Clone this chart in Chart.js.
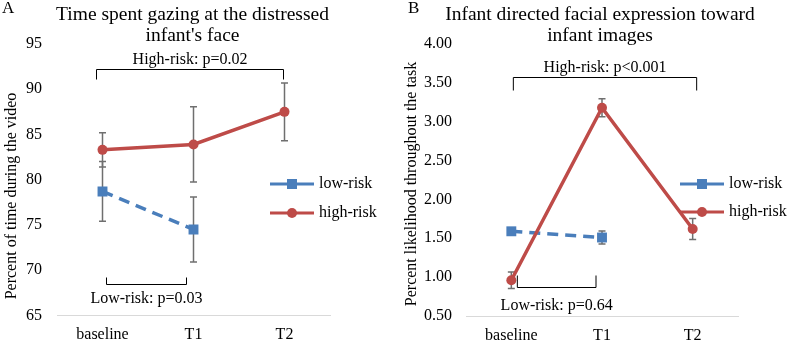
<!DOCTYPE html>
<html>
<head>
<meta charset="utf-8">
<script src="https://cdn.jsdelivr.net/npm/chart.js@4/dist/chart.umd.min.js"></script>
<style>
  body { margin: 0; background: #fff; }
  #wrap { display: flex; width: 787px; height: 340px; }
  canvas { display: block; }
</style>
</head>
<body>
<div id="wrap">
  <canvas id="chartA" width="393" height="340"></canvas>
  <canvas id="chartB" width="394" height="340"></canvas>
</div>
<script>
const categories = ["baseline", "T1", "T2"];

// panel A: time spent gazing (%)
const lowRiskA = [78.7, 74.5, null];
const lowRiskErrA = [3.3, 3.6, null];
const highRiskA = [83.3, 83.9, 87.5];
const highRiskErrA = [1.9, 4.15, 3.2];
const ticksA = [65, 70, 75, 80, 85, 90, 95];

// panel B: facial expression likelihood (%)
const lowRiskB = [1.59, 1.51, null];
const lowRiskErrB = [0.045, 0.085, null];
const highRiskB = [0.96, 3.18, 1.62];
const highRiskErrB = [0.105, 0.115, 0.135];
const ticksB = [0.5, 1.0, 1.5, 2.0, 2.5, 3.0, 3.5, 4.0];

const blue = "#4a7ebb";
const red = "#be4b48";
const serif = "'Liberation Serif', 'Times New Roman', serif";

// draws error bars, p-value brackets, panel letter, titles and legend
const extrasPlugin = {
  id: "extras",
  beforeDatasetsDraw(chart) {
    const ctx = chart.ctx;
    const x = chart.scales.x;
    const y = chart.scales.y;
    const opts = chart.options.plugins.extras;
    ctx.save();
    ctx.strokeStyle = "#6f6f6f";
    ctx.lineWidth = 1.5;
    opts.errors.forEach((e) => {
      e.values.forEach((v, i) => {
        if (v == null || e.err[i] == null) return;
        const px = x.getPixelForValue(i);
        const top = y.getPixelForValue(v + e.err[i]);
        const bot = y.getPixelForValue(v - e.err[i]);
        ctx.beginPath();
        ctx.moveTo(px, top);
        ctx.lineTo(px, bot);
        ctx.moveTo(px - 3.5, top);
        ctx.lineTo(px + 3.5, top);
        ctx.moveTo(px - 3.5, bot);
        ctx.lineTo(px + 3.5, bot);
        ctx.stroke();
      });
    });
    ctx.restore();
  },
  afterDraw(chart) {
    const ctx = chart.ctx;
    const x = chart.scales.x;
    const y = chart.scales.y;
    const area = chart.chartArea;
    const opts = chart.options.plugins.extras;
    ctx.save();

    // brackets
    ctx.strokeStyle = "#000";
    ctx.lineWidth = 1;
    ctx.fillStyle = "#000";
    ctx.font = "16px " + serif;
    ctx.textAlign = "center";
    ctx.textBaseline = "middle";
    opts.brackets.forEach((b) => {
      const x1 = x.getPixelForValue(b.from) + b.dx1;
      const x2 = x.getPixelForValue(b.to) + b.dx2;
      const py = Math.round(y.getPixelForValue(b.value)) + 0.5;
      ctx.beginPath();
      ctx.moveTo(x1, py + b.tick);
      ctx.lineTo(x1, py);
      ctx.lineTo(x2, py);
      ctx.lineTo(x2, py + b.tick);
      ctx.stroke();
      ctx.fillText(b.label, (x1 + x2) / 2, py + b.textDy);
    });

    // y axis title
    ctx.save();
    ctx.translate(opts.yTitleX, opts.yTitleY);
    ctx.rotate(-Math.PI / 2);
    ctx.fillText(opts.yTitle, 0, 0);
    ctx.restore();

    // panel letter and title
    ctx.font = "17px " + serif;
    ctx.textAlign = "left";
    ctx.fillText(opts.letter, opts.letterX, 9);
    ctx.font = "19.5px " + serif;
    ctx.textAlign = "center";
    const cx = (area.left + area.right) / 2 + opts.titleDx;
    opts.title.forEach((line, i) => ctx.fillText(line, cx, 15 + i * 21));

    // legend
    chart.data.datasets.forEach((ds, i) => {
      const ly = opts.legendY[i];
      const lx1 = opts.legendX;
      const lx2 = lx1 + 44;
      const mx = (lx1 + lx2) / 2;
      ctx.strokeStyle = ds.borderColor;
      ctx.lineWidth = 3;
      ctx.beginPath();
      ctx.moveTo(lx1, ly);
      ctx.lineTo(lx2, ly);
      ctx.stroke();
      ctx.fillStyle = ds.borderColor;
      if (ds.pointStyle === "rect") {
        ctx.fillRect(mx - 5, ly - 5, 10, 10);
      } else {
        ctx.beginPath();
        ctx.arc(mx, ly, 5, 0, Math.PI * 2);
        ctx.fill();
      }
      ctx.fillStyle = "#000";
      ctx.font = "16px " + serif;
      ctx.textAlign = "left";
      ctx.fillText(ds.label, lx2 + 5, ly);
    });
    ctx.restore();
  },
};

function makeChart(id, cfg) {
  return new Chart(document.getElementById(id).getContext("2d"), {
    type: "line",
    data: {
      labels: categories,
      datasets: [
        {
          label: "low-risk",
          data: cfg.low,
          borderColor: blue,
          backgroundColor: blue,
          borderWidth: 3.5,
          borderDash: [11, 7],
          pointStyle: "rect",
          pointRadius: 7,
          pointBorderWidth: 0,
          order: 1,
          spanGaps: false,
        },
        {
          label: "high-risk",
          data: cfg.high,
          borderColor: red,
          backgroundColor: red,
          borderWidth: 3.5,
          pointStyle: "circle",
          pointRadius: 5,
          pointBorderWidth: 0,
          order: 0,
        },
      ],
    },
    options: {
      responsive: false,
      animation: false,
      layout: { padding: { left: 0, top: 44, right: cfg.padRight, bottom: 0 } },
      plugins: {
        legend: { display: false },
        tooltip: { enabled: false },
        extras: cfg.extras,
      },
      scales: {
        x: {
          offset: true,
          grid: { display: false, drawTicks: false },
          border: { display: true, color: "#d9d9d9", width: 1 },
          ticks: { color: "#000", font: { family: serif, size: 16 }, padding: 10 },
          afterFit: (s) => { s.height = 24; },
        },
        y: {
          min: cfg.ticks[0],
          max: cfg.ticks[cfg.ticks.length - 1],
          afterBuildTicks: (s) => { s.ticks = cfg.ticks.map((v) => ({ value: v })); },
          grid: { display: false, drawTicks: false },
          border: { display: false },
          ticks: {
            color: "#000",
            font: { family: serif, size: 16 },
            padding: cfg.tickPad,
            callback: cfg.fmt,
          },
          afterFit: (s) => { s.width = cfg.yWidth; },
        },
      },
    },
    plugins: [extrasPlugin],
  });
}

makeChart("chartA", {
  low: lowRiskA,
  high: highRiskA,
  ticks: ticksA,
  fmt: (v) => String(v),
  yWidth: 57,
  tickPad: 15,
  padRight: 63,
  extras: {
    letter: "A",
    letterX: 2,
    title: ["Time spent gazing at the distressed", "infant's face"],
    titleDx: -1,
    yTitle: "Percent of time during the video",
    yTitleX: 12,
    yTitleY: 196,
    legendX: 270,
    legendY: [184, 213],
    errors: [
      { values: lowRiskA, err: lowRiskErrA },
      { values: highRiskA, err: highRiskErrA },
    ],
    brackets: [
      { label: "High-risk: p=0.02", from: 0, to: 2, dx1: -6, dx2: -1, value: 92.24, tick: 10, textDy: -10 },
      { label: "Low-risk: p=0.03", from: 0, to: 1, dx1: 4, dx2: -7, value: 68.5, tick: -7, textDy: 14 },
    ],
  },
});

makeChart("chartB", {
  low: lowRiskB,
  high: highRiskB,
  ticks: ticksB,
  fmt: (v) => Number(v).toFixed(2),
  yWidth: 73,
  tickPad: 14,
  padRight: 49,
  extras: {
    letter: "B",
    letterX: 15,
    title: ["Infant directed facial expression toward", "infant images"],
    titleDx: -2,
    yTitle: "Percent likelihood throughout the task",
    yTitleX: 19,
    yTitleY: 184,
    legendX: 287,
    legendY: [184, 212],
    errors: [
      { values: lowRiskB, err: lowRiskErrB },
      { values: highRiskB, err: highRiskErrB },
    ],
    brackets: [
      { label: "High-risk: p<0.001", from: 0, to: 2, dx1: 2, dx2: 4, value: 3.58, tick: 13, textDy: -10 },
      { label: "Low-risk: p=0.64", from: 0, to: 1, dx1: 6, dx2: -6, value: 0.878, tick: -12, textDy: 18 },
    ],
  },
});
</script>
</body>
</html>
